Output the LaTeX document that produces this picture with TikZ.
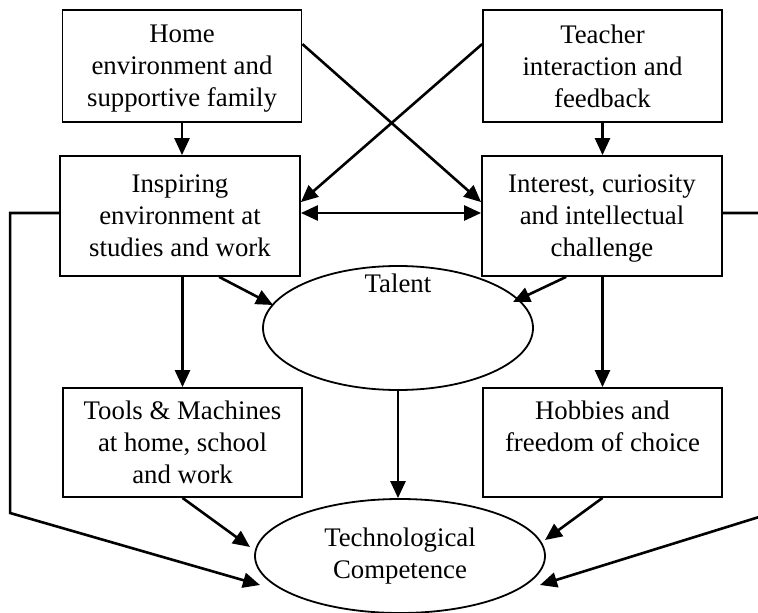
\documentclass[tikz,border=0pt]{standalone}
\usepackage{fontspec}
\setmainfont{Liberation Serif}
\usetikzlibrary{arrows.meta,shapes.geometric,calc}
\begin{document}
\begin{tikzpicture}[x=1pt,y=-1pt,
  every node/.style={font=\fontsize{26.8pt}{32pt}\selectfont, inner sep=0pt},
  box/.style={draw, line width=1.8pt, rectangle, align=center, minimum width=239pt, text depth=0pt},
  ell/.style={draw, line width=1.8pt, ellipse, align=center},
  arr/.style={line width=2.6pt, -{Triangle[length=17pt,width=15pt]}},
  dbl/.style={line width=2.6pt, {Triangle[length=17pt,width=15pt]}-{Triangle[length=17pt,width=15pt]}}
]
\useasboundingbox (0,0) rectangle (758,613);
\clip (0,0) rectangle (758,613);
\fill[white] (0,0) rectangle (758,613);

% boxes
\node[box, minimum height=112pt] (home) at (182,66) {Home\\environment and\\supportive family};
\node[box, minimum height=112pt] (teacher) at (602.5,66) {Teacher\\interaction and\\feedback};
\node[box, minimum height=120pt, minimum width=240pt] (insp) at (180,216) {Inspiring\\environment at\\studies and work};
\node[box, minimum height=120pt, minimum width=240pt] (inter) at (602,216) {Interest, curiosity\\and intellectual\\challenge};
\node[box, minimum height=109pt] (tools) at (182.5,442.5) {Tools \& Machines\\at home, school\\and work};
\node[box, minimum height=109pt] (hobbies) at (602.5,442.5) {Hobbies and\\freedom of choice\\\mbox{}};

% ellipses
\node[ell, minimum width=270pt, minimum height=124pt] (talent) at (398,328) {};
\node (talentlabel) at (398,283) {Talent};
\node[ell, minimum width=290pt, minimum height=114pt] (tech) at (400,556) {Technological\\Competence};

% vertical arrows
\draw[arr] (home.south) -- (home.south |- insp.north);
\draw[arr] (teacher.south) -- (teacher.south |- inter.north);
\draw[arr] (tools.north |- insp.south) -- (tools.north);
\draw[arr] (hobbies.north |- inter.south) -- (hobbies.north);
\draw[arr] (talent.south) -- (talent.south |- tech.north);

% crossing arrows
\draw[arr] ($(home.north east)+(0,35)$) -- ($(inter.north west)+(0,47)$);
\draw[arr] ($(teacher.north west)+(0,35)$) -- ($(insp.north east)+(0,47)$);
\draw[dbl] ($(insp.east)+(0,-3)$) -- ($(inter.west)+(0,-3)$);

% to talent
\draw[arr] ($(insp.south west)+(160,0)$) -- ($(talent.center)+(-125,-23)$);
\draw[arr] ($(inter.south west)+(85,0)$) -- ($(talent.center)+(115,-26)$);

% to technological competence
\draw[arr] (tools.south) -- ($(tech.center)+(-150,-9)$);
\draw[arr] (hobbies.south) -- ($(tech.center)+(145,-16)$);
\draw[arr] ($(insp.west)+(0,-3)$) -- ++(-49,0) -- ++(0,300) -- ($(tech.center)+(-140,29)$);
\draw[arr] ($(inter.east)+(0,-3)$) -- ++(49,0) -- ++(0,300) -- ($(tech.center)+(140,29)$);
\end{tikzpicture}
\end{document}
